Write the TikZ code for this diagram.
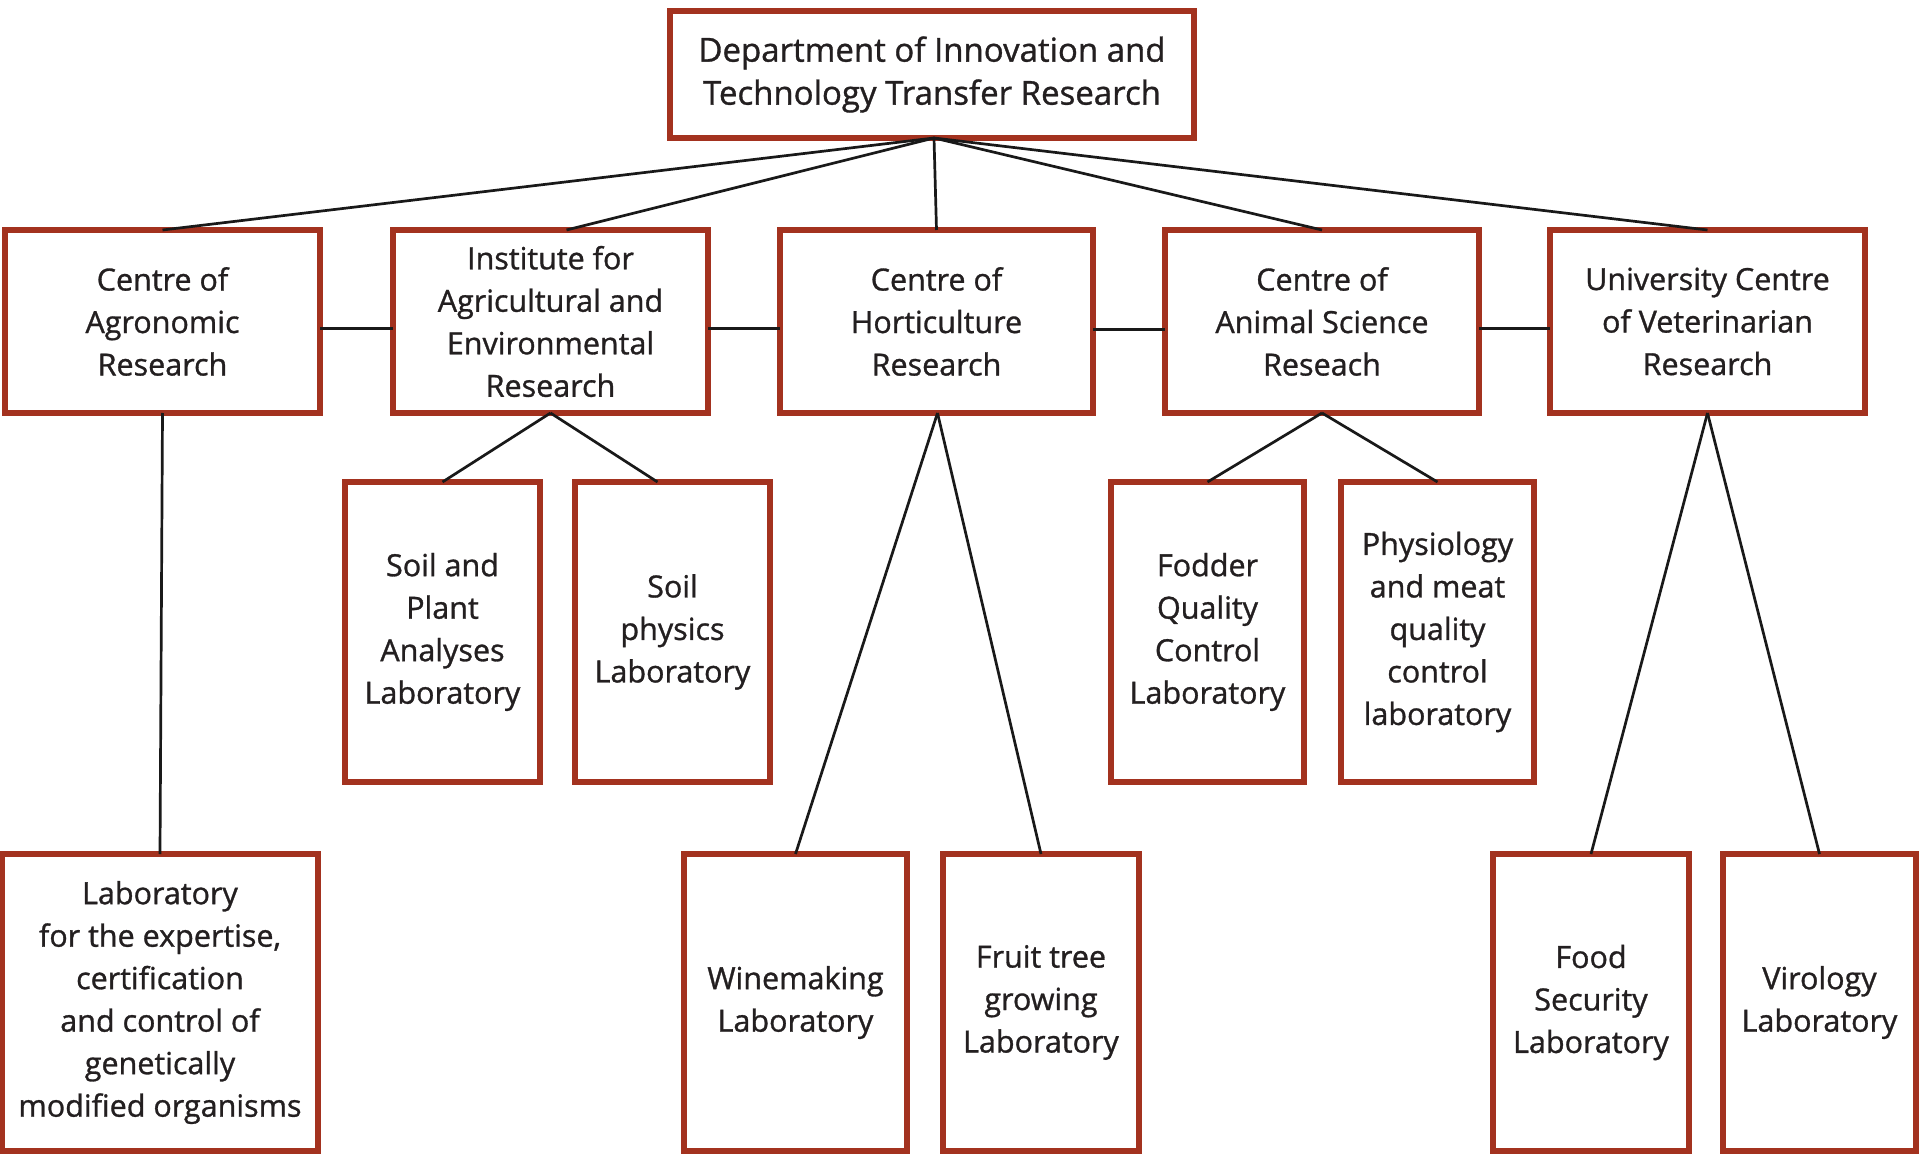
\documentclass[tikz,border=0pt]{standalone}
\usepackage{fontspec}
\setmainfont{Open Sans}[FakeBold=1.0]
\definecolor{boxred}{HTML}{A3321F}
\definecolor{txt}{HTML}{231F20}
\begin{document}
\begin{tikzpicture}[x=1pt,y=1pt,
  box/.style={draw=boxred,line width=5.2pt,inner sep=0pt,outer sep=0pt,align=center,text=txt,
    font=\fontsize{30.5}{42.5}\selectfont},
  link/.style={draw=black!90,line width=2.7pt}]
\useasboundingbox[fill=white] (0,0) rectangle (1920,-1155);
% top
\node[box,minimum width=524,minimum height=127,font=\fontsize{33}{43}\selectfont] (top) at (932,-74.5) {Department of Innovation and\\Technology Transfer Research};
% row 2
\node[box,minimum width=315,minimum height=183] (A) at (162.5,-321.5) {Centre of\\Agronomic\\Research};
\node[box,minimum width=315,minimum height=183] (I) at (550.5,-321.5) {Institute for\\Agricultural and\\Environmental\\Research};
\node[box,minimum width=313,minimum height=183] (H) at (936.5,-321.5) {Centre of\\Horticulture\\Research};
\node[box,minimum width=314,minimum height=183] (An) at (1322,-321.5) {Centre of\\Animal Science\\Reseach};
\node[box,minimum width=315,minimum height=183] (V) at (1707.5,-321.5) {University Centre\\of Veterinarian\\Research};
% row 3
\node[box,minimum width=195,minimum height=300] (SP) at (442.5,-632) {Soil and\\Plant\\Analyses\\Laboratory};
\node[box,minimum width=195,minimum height=300] (SPh) at (672.5,-632) {Soil\\physics\\Laboratory};
\node[box,minimum width=193,minimum height=300] (F) at (1207.5,-632) {Fodder\\Quality\\Control\\Laboratory};
\node[box,minimum width=193,minimum height=300] (Ph) at (1437.5,-632) {Physiology\\and meat\\quality\\control\\laboratory};
% row 4
\node[box,minimum width=316,minimum height=297] (G) at (160,-1002.5) {Laboratory\\for the expertise,\\certification\\and control of\\genetically\\modified organisms};
\node[box,minimum width=223,minimum height=297] (W) at (795.5,-1002.5) {Winemaking\\Laboratory};
\node[box,minimum width=196,minimum height=297] (Fr) at (1041,-1002.5) {Fruit tree\\growing\\Laboratory};
\node[box,minimum width=196,minimum height=297] (FS) at (1591,-1002.5) {Food\\Security\\Laboratory};
\node[box,minimum width=193,minimum height=297] (Vi) at (1819.5,-1002.5) {Virology\\Laboratory};
% connectors from top
\draw[link] ([xshift=2]top.south) -- (A.north);
\draw[link] ([xshift=2]top.south) -- ([xshift=16]I.north);
\draw[link] ([xshift=2]top.south) -- (H.north);
\draw[link] ([xshift=2]top.south) -- (An.north);
\draw[link] ([xshift=2]top.south) -- (V.north);
% horizontal
\draw[link] ([yshift=-7]A.east) -- ([yshift=-7]I.west);
\draw[link] ([yshift=-7]I.east) -- ([yshift=-7]H.west);
\draw[link] ([yshift=-8]H.east) -- ([yshift=-8]An.west);
\draw[link] ([yshift=-7]An.east) -- ([yshift=-7]V.west);
% children
\draw[link] (A.south) -- (G.north);
\draw[link] (I.south) -- (SP.north);
\draw[link] (I.south) -- ([xshift=-15]SPh.north);
\draw[link] ([xshift=1]H.south) -- (W.north);
\draw[link] ([xshift=1]H.south) -- (Fr.north);
\draw[link] (An.south) -- (F.north);
\draw[link] (An.south) -- (Ph.north);
\draw[link] (V.south) -- (FS.north);
\draw[link] (V.south) -- (Vi.north);
\end{tikzpicture}
\end{document}
